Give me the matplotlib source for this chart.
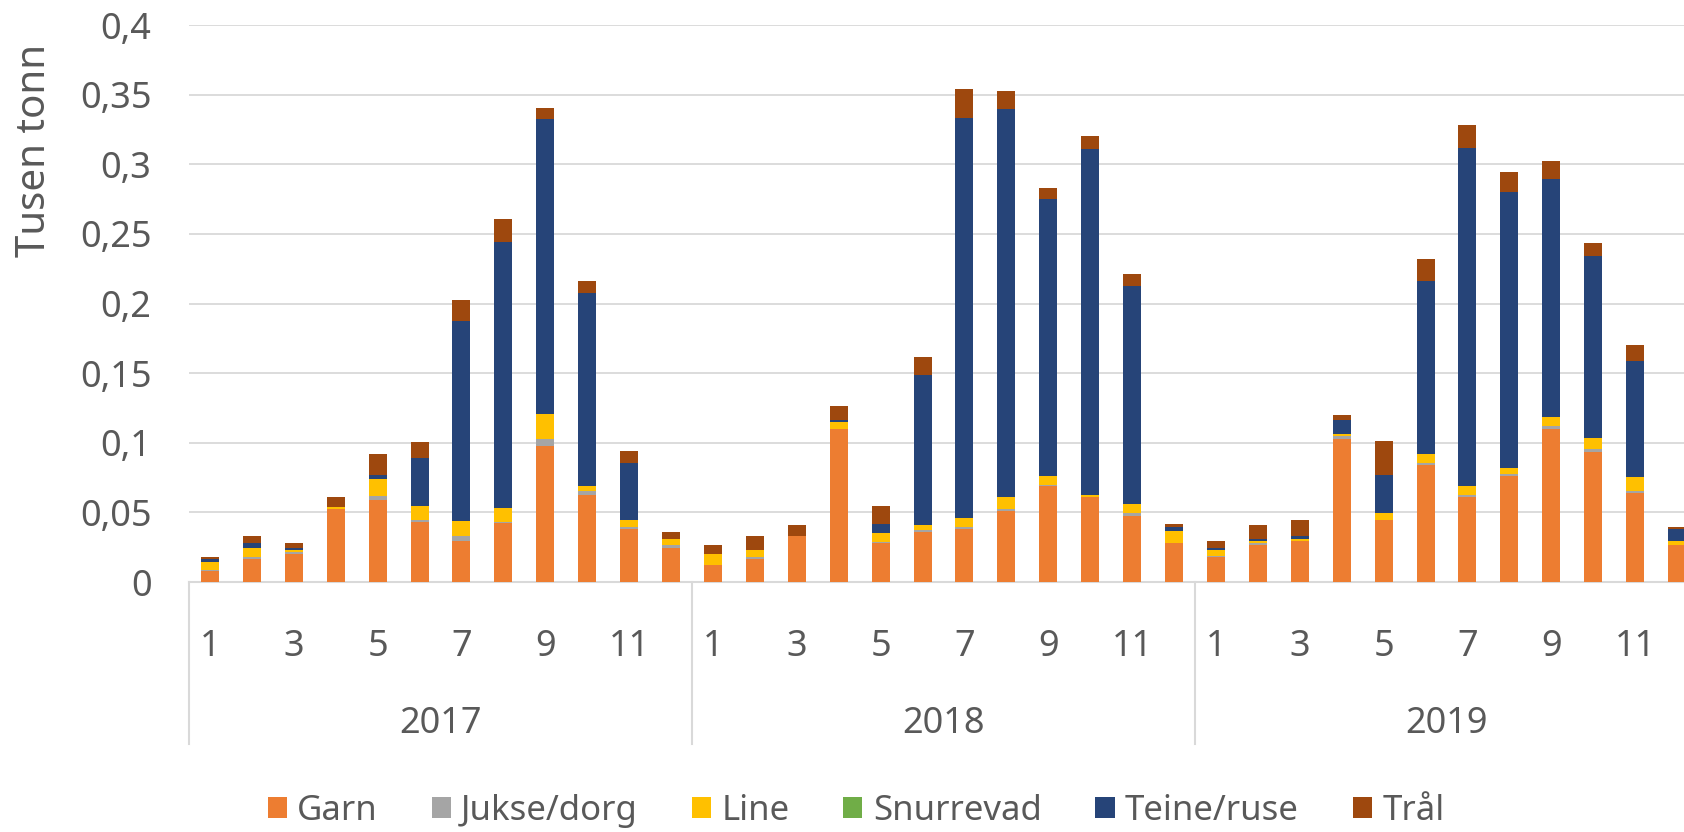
import numpy as np
import matplotlib
matplotlib.use('Agg')
import matplotlib.pyplot as plt
import matplotlib.transforms as mtransforms

plt.rcParams['font.family'] = ['Noto Sans', 'DejaVu Sans']

years = ['2017', '2018', '2019']
months = list(range(1, 13))

garn = [0.008, 0.0165, 0.020, 0.0525, 0.059, 0.043, 0.0295, 0.0427, 0.098, 0.0624, 0.038, 0.0247,
        0.012, 0.0165, 0.033, 0.110, 0.028, 0.036, 0.038, 0.051, 0.0688, 0.061, 0.0477, 0.028,
        0.018, 0.0264, 0.0295, 0.103, 0.0444, 0.0837, 0.061, 0.0758, 0.110, 0.0935, 0.0638, 0.0264]
jukse = [0.0005, 0.0017, 0.0015, 0.0, 0.003, 0.0017, 0.0036, 0.0005, 0.0046, 0.003, 0.0017, 0.0017,
         0.0, 0.0017, 0.0, 0.0, 0.0005, 0.0017, 0.0017, 0.0017, 0.0005, 0.0, 0.0017, 0.0,
         0.001, 0.0014, 0.0, 0.0016, 0.0, 0.0017, 0.0015, 0.0014, 0.0017, 0.0017, 0.0017, 0.0]
line = [0.006, 0.0065, 0.0017, 0.0017, 0.012, 0.010, 0.011, 0.0098, 0.018, 0.0033, 0.0048, 0.0048,
        0.008, 0.0048, 0.0, 0.0048, 0.0067, 0.0033, 0.0064, 0.008, 0.0065, 0.0015, 0.0065, 0.0084,
        0.004, 0.0017, 0.0017, 0.002, 0.005, 0.0065, 0.0065, 0.005, 0.0065, 0.0079, 0.0098, 0.003]
snurrevad = [0, 0, 0, 0, 0, 0, 0, 0, 0, 0, 0, 0,
             0, 0, 0, 0, 0, 0, 0, 0, 0, 0, 0, 0,
             0, 0, 0, 0, 0, 0, 0, 0, 0, 0, 0, 0]
teine = [0.002, 0.0033, 0.0015, 0.0, 0.003, 0.034, 0.1436, 0.191, 0.212, 0.139, 0.041, 0.0,
         0.0, 0.0, 0.0, 0.0017, 0.0067, 0.1078, 0.287, 0.279, 0.199, 0.2484, 0.1566, 0.0034,
         0.0017, 0.0017, 0.0019, 0.0098, 0.0276, 0.124, 0.243, 0.1976, 0.171, 0.1307, 0.0832, 0.0084]
tral = [0.0017, 0.005, 0.0033, 0.0065, 0.0146, 0.0115, 0.0149, 0.0164, 0.008, 0.0083, 0.0084, 0.005,
        0.0065, 0.0101, 0.008, 0.010, 0.013, 0.013, 0.021, 0.0127, 0.0084, 0.0096, 0.0084, 0.0016,
        0.005, 0.0098, 0.0113, 0.0033, 0.0244, 0.016, 0.0163, 0.0146, 0.0132, 0.0096, 0.0115, 0.0017]

series = [('Garn', garn, '#ED7D31'),
          ('Jukse/dorg', jukse, '#A5A5A5'),
          ('Line', line, '#FFC000'),
          ('Snurrevad', snurrevad, '#70AD47'),
          ('Teine/ruse', teine, '#264478'),
          ('Trål', tral, '#9E480E')]

text_color = '#595959'
grid_color = '#D9D9D9'

fig = plt.figure(figsize=(16.84, 8.32), dpi=100)
# axes runs past the right edge, the original is cropped there
ax = fig.add_axes([189 / 1684, 250 / 832, 1509 / 1684, 557 / 832])

x = np.arange(len(garn))
bottom = np.zeros(len(garn))
for name, vals, col in series:
    vals = np.array(vals, dtype=float)
    ax.bar(x, vals, 0.43, bottom=bottom, color=col, label=name, linewidth=0, zorder=3)
    bottom += vals

ax.set_xlim(-0.5, len(garn) - 0.5)
ax.set_ylim(0, 0.4)
ax.set_yticks(np.arange(0, 0.401, 0.05))
ax.set_yticklabels(['0', '0,05', '0,1', '0,15', '0,2', '0,25', '0,3', '0,35', '0,4'])
ax.yaxis.grid(True, color=grid_color, linewidth=1.3, zorder=0)
ax.set_axisbelow(True)

for s in ['top', 'right', 'left']:
    ax.spines[s].set_visible(False)
ax.spines['bottom'].set_color(grid_color)
ax.spines['bottom'].set_linewidth(1.5)

ticks = [i * 12 + m - 1 for i in range(len(years)) for m in months if m % 2 == 1]
ax.set_xticks(ticks)
ax.set_xticklabels([str(t % 12 + 1) for t in ticks])
ax.tick_params(axis='x', length=0, pad=34, labelsize=26, colors=text_color)
ax.tick_params(axis='y', length=0, pad=27, labelsize=26, colors=text_color)

trans = mtransforms.blended_transform_factory(ax.transData, ax.transAxes)
for i, yr in enumerate(years):
    ax.text(i * 12 + 5.5, -0.2545, yr, transform=trans, ha='center', va='center',
            fontsize=26, color=text_color)
for b in [-0.5, 11.5, 23.5, 35.5]:
    ax.plot([b, b], [0, -0.29], transform=trans, color=grid_color, linewidth=1.5,
            clip_on=False)

fig.text(35 / 1684, 1 - 150 / 832, 'Tusen tonn', rotation=90, ha='center', va='center',
         fontsize=29, color=text_color)

fig.legend(loc='center', bbox_to_anchor=(856 / 1684, 1 - 811 / 832), ncol=6, frameon=False,
           fontsize=25, labelcolor=text_color, handlelength=0.55, handleheight=0.55,
           handletextpad=0.3, columnspacing=1.55)

fig.savefig('out.png', dpi=100)
